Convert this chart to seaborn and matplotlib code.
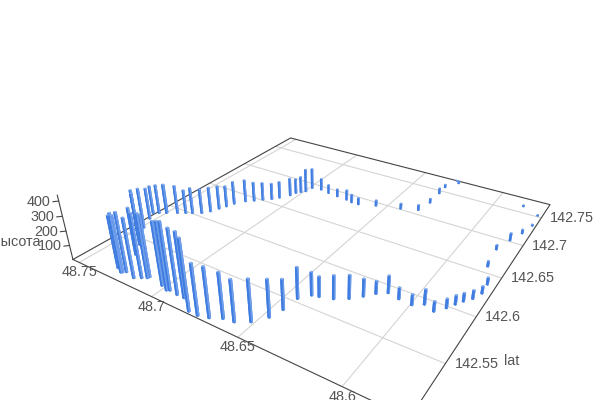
import numpy as np
import matplotlib
matplotlib.use('Agg')
import matplotlib.pyplot as plt
import seaborn as sns
from mpl_toolkits.mplot3d import proj3d

lon = [48.7300,48.7260,48.7254,48.7240,48.7174,48.7317,48.7143,48.7120,48.7117,48.7018,48.6975,48.6962,48.6911,48.6868,48.6784,48.6732,48.6680,48.6627,48.6573,48.6513,48.6467,48.6447,48.6439,48.6400,48.6366,48.6303,48.6246,48.6201,48.6163,48.6119,48.6059,48.5992,48.5947,48.5893,48.5856,48.5833,48.5811,48.5783,48.5762,48.5765,48.5813,48.5828,48.5797,48.5765,48.5743,48.5749,48.5847,48.6265,48.6289,48.6314,48.6312,48.6311,48.6331,48.6421,48.6555,48.6647,48.6691,48.6732,48.6799,48.6864,48.6924,48.6982,48.6989,48.7009,48.7027,48.7038,48.7073,48.7101,48.7140,48.7175,48.7211,48.7248,48.7264,48.7282,48.7301,48.7330,48.7373,48.7405,48.7444,48.7500,48.7495,48.7530,48.7556,48.7526,48.7481,48.7371,48.7453]
lat = [142.5127,142.5100,142.5107,142.5125,142.5103,142.5315,142.5133,142.5155,142.5172,142.5147,142.5125,142.5137,142.5129,142.5128,142.5042,142.5041,142.5064,142.5107,142.5120,142.5178,142.5276,142.5387,142.5532,142.5613,142.5628,142.5659,142.5718,142.5791,142.5863,142.5915,142.5894,142.5883,142.5934,142.5900,142.5977,142.6044,142.6103,142.6164,142.6253,142.6371,142.6582,142.6834,142.7015,142.7168,142.7330,142.7515,142.7609,142.7720,142.7762,142.7578,142.7442,142.7240,142.7069,142.7009,142.6942,142.6880,142.6880,142.6899,142.6906,142.6919,142.6937,142.6921,142.6836,142.6802,142.6763,142.6699,142.6614,142.6558,142.6506,142.6451,142.6401,142.6316,142.6244,142.6180,142.6106,142.6046,142.6004,142.5974,142.5937,142.5898,142.5887,142.5854,142.5824,142.5745,142.5619,142.5426,142.5519]
height = [361,402,387,406,404,332,433,433,419,426,452,452,435,431,464,337,330,300,276,279,250,204,213,160,140,162,162,123,90,121,81,75,104,71,66,65,60,61,52,51,42,36,57,33,13,10,13,22,6,28,46,37,44,45,47,55,67,80,62,70,92,159,180,126,116,139,130,127,137,148,171,175,162,178,188,187,196,179,211,216,222,217,211,232,292,365,326]
lon_ticks = [48.6,48.65,48.7,48.75]
lat_ticks = [142.55,142.6,142.65,142.7,142.75]
z_ticks = [100,200,300,400]
xmin,xmax,ymin,ymax,zmax = 48.5726,48.7547,142.5023,142.7768,439.16

sns.set_theme(style='white')
plt.rcParams['font.family'] = ['Liberation Sans','DejaVu Sans']
c_side,c_lit,c_top = sns.color_palette(['#3f7ce0','#6d9deb','#8fb5f0'])
INK='#555555'; AX='#444444'; GRID='#d4d4d4'

s=2643.72; L=s*0.185; left=329.55-s*0.095; bottom=(400-200.35)-s*0.095
fig=plt.figure(figsize=(6,4),dpi=100)
ax=fig.add_axes([left/600,bottom/400,L/600,L/400],projection='3d')
ax.computed_zorder=False
w,d=0.0011,0.0016
n=len(lon)
facecols=[c_side,c_top,c_side,c_side,c_lit,c_side]*n
ax.bar3d(np.array(lon)-w/2,np.array(lat)-d/2,np.zeros(n),w,d,height,color=facecols,shade=False,zorder=5,edgecolor='none',linewidth=0)
ax.set_box_aspect((1,0.9996,0.1965))
ax.view_init(elev=28.5792,azim=302.5601)
ax.set_proj_type('persp',focal_length=0.2292)
ax.set_xlim(xmax,xmin,view_margin=0);ax.set_ylim(ymin,ymax,view_margin=0);ax.set_zlim(0,zmax,view_margin=0)
ax.set_axis_off()
for x in lon_ticks:
    ax.plot([x,x],[ymin,ymax],[0,0],color=GRID,lw=0.8,zorder=1,clip_on=False)
for y in lat_ticks:
    ax.plot([xmin,xmax],[y,y],[0,0],color=GRID,lw=0.8,zorder=1,clip_on=False)
ax.plot([xmax,xmax,xmin,xmin,xmax],[ymin,ymax,ymax,ymin,ymin],[0,0,0,0,0],color=AX,lw=0.8,zorder=2,clip_on=False)
ax.plot([xmax,xmax],[ymin,ymin],[0,zmax],color=AX,lw=0.8,zorder=2,clip_on=False)
for z in z_ticks:
    ax.plot([xmax,xmax+0.0018],[ymin,ymin-0.0028],[z,z],color=AX,lw=0.8,zorder=2,clip_on=False)
M=ax.get_proj()
def label(x,y,z,t,dx,dy,ha='center',va='center'):
    xs,ys,_=proj3d.proj_transform(x,y,z,M)
    ax.annotate(t,(xs,ys),xytext=(dx*0.72,dy*0.72),textcoords='offset points',ha=ha,va=va,color=INK,fontsize=10.4,annotation_clip=False,zorder=6)
for x in lon_ticks:
    label(x,ymin,0,f'{x:g}',0,-10)
for y in lat_ticks:
    label(xmin,y,0,f'{y:g}',9,0,ha='left')
for z in z_ticks:
    label(xmax,ymin,z,str(z),-8,-1,ha='right')
label(xmax,ymin,220,'высота',-49,-14)
label(xmin,142.55,0,'lat',66,3)
fig.savefig('out.png',dpi=100)
